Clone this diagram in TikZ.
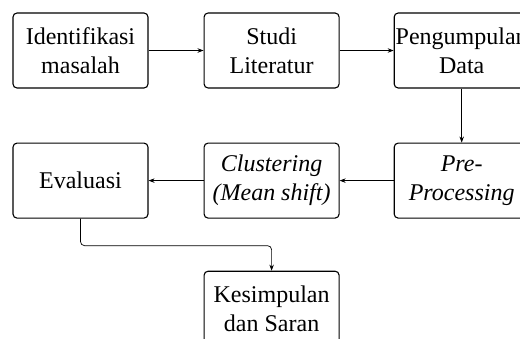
\documentclass[tikz,border=0pt]{standalone}
\usepackage{fontspec}
\setmainfont{Liberation Serif}
\usetikzlibrary{positioning}
\usetikzlibrary{arrows.meta}

\tikzset{
  stepbox/.style={draw, line width=1.1pt, rounded corners=4pt, inner sep=0pt,
    minimum width=135pt, minimum height=75pt, align=center,
    font=\fontsize{24}{29}\selectfont},
  flow/.style={-{Stealth[length=6pt,width=4.5pt]}, line width=0.7pt}
}

\begin{document}
\begin{tikzpicture}[x=1pt, y=-1pt]
            % picture frame, cut off at the right and bottom
            \useasboundingbox (0,0) rectangle (520,338);
            \clip (0,0) rectangle (520,338);

            % first row
            \node[stepbox] (identifikasi) at (80.5,50.5) {Identifikasi\\masalah};
            \node[stepbox, right=55pt of identifikasi] (studi) {Studi\\Literatur};
            \node[stepbox, right=54pt of studi] (data) {Pengumpulan\\Data};

            % second row
            \node[stepbox, below=54pt of data] (preproc) {\textit{Pre-}\\\textit{Processing}};
            \node[stepbox, left=54pt of preproc] (clustering) {\textit{Clustering}\\\textit{(Mean shift)}};
            \node[stepbox, left=55pt of clustering] (evaluasi) {Evaluasi};

            % last step
            \node[stepbox, below=52pt of clustering] (kesimpulan) {Kesimpulan\\dan Saran};

            % connectors
            \draw[flow] (identifikasi) -- (studi);
            \draw[flow] (studi) -- (data);
            \draw[flow] (data) -- (preproc);
            \draw[flow] (preproc) -- (clustering);
            \draw[flow] (clustering) -- (evaluasi);
            \draw[flow, rounded corners=4pt] (evaluasi.south) -- ++(0,27) -| (kesimpulan.north);

            \end{tikzpicture}
\end{document}
